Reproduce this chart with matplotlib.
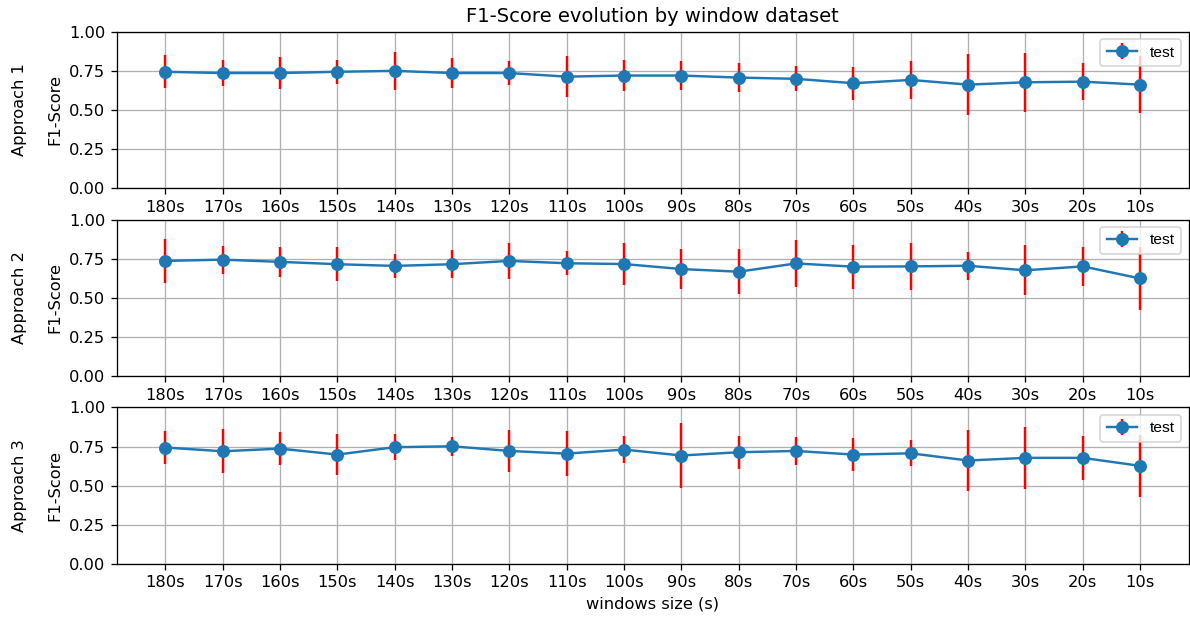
import matplotlib
matplotlib.use("Agg")
import matplotlib.pyplot as plt
import numpy as np

windows = ["180s", "170s", "160s", "150s", "140s", "130s", "120s", "110s", "100s",
           "90s", "80s", "70s", "60s", "50s", "40s", "30s", "20s", "10s"]
approaches = ["Approach 1", "Approach 2", "Approach 3"]

# mean F1-score per window size
f1_app1 = [0.744, 0.736, 0.736, 0.744, 0.750, 0.736, 0.736, 0.713, 0.720,
           0.720, 0.707, 0.699, 0.671, 0.692, 0.662, 0.677, 0.681, 0.662]
f1_app2 = [0.736, 0.744, 0.730, 0.715, 0.704, 0.715, 0.736, 0.721, 0.716,
           0.684, 0.667, 0.720, 0.699, 0.701, 0.705, 0.676, 0.701, 0.624]
f1_app3 = [0.744, 0.720, 0.737, 0.699, 0.746, 0.752, 0.722, 0.705, 0.731,
           0.693, 0.714, 0.722, 0.699, 0.707, 0.661, 0.678, 0.678, 0.627]

# standard deviation per window size
std_app1 = [0.105, 0.083, 0.100, 0.078, 0.120, 0.095, 0.077, 0.133, 0.098,
            0.090, 0.090, 0.080, 0.105, 0.123, 0.195, 0.187, 0.120, 0.180]
std_app2 = [0.140, 0.090, 0.096, 0.110, 0.078, 0.090, 0.115, 0.077, 0.132,
            0.130, 0.145, 0.150, 0.140, 0.150, 0.090, 0.160, 0.125, 0.200]
std_app3 = [0.104, 0.141, 0.107, 0.129, 0.084, 0.062, 0.133, 0.144, 0.088,
            0.205, 0.105, 0.091, 0.103, 0.084, 0.197, 0.200, 0.140, 0.200]

means = [f1_app1, f1_app2, f1_app3]
stds = [std_app1, std_app2, std_app3]

DPI = 117
fig, axes = plt.subplots(3, 1, figsize=(1190 / DPI, 617 / DPI), dpi=DPI)
fig.subplots_adjust(left=0.098, right=0.999, top=0.9486, bottom=0.0859, hspace=0.2)

legend_font = {"family": ["Liberation Sans Narrow", "Liberation Sans"],
               "stretch": "condensed", "size": 9.5}

x = np.arange(len(windows))
for ax, name, m, s in zip(axes, approaches, means, stds):
    ax.errorbar(x, m, yerr=s, fmt="-o", color="tab:blue", ecolor="red",
                elinewidth=1.5, markersize=7, label="test")
    ax.set_xticks(x)
    ax.set_xticklabels(windows)
    ax.set_ylim(0, 1)
    ax.set_yticks([0, 0.25, 0.5, 0.75, 1.0])
    ax.set_ylabel("F1-Score")
    ax.grid(True)
    ax.legend(loc="upper right", prop=legend_font)
    # row title on the far left
    pos = ax.get_position()
    fig.text(0.016, (pos.y0 + pos.y1) / 2, name, rotation=90,
             ha="center", va="center", fontsize=10)

axes[0].set_title("F1-Score evolution by window dataset")
axes[-1].set_xlabel("windows size (s)")

plt.savefig("out.png", dpi=DPI)
